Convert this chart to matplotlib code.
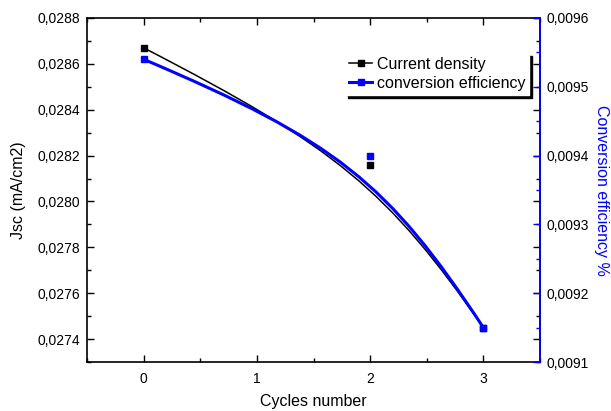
import matplotlib
matplotlib.use('Agg')
import matplotlib.pyplot as plt
from matplotlib.path import Path
from matplotlib.patches import PathPatch
from matplotlib.lines import Line2D
from matplotlib.ticker import FuncFormatter, MultipleLocator

plt.rcParams['font.family'] = ['Liberation Sans', 'DejaVu Sans']

# Values
cycles = [0, 2, 3]
jsc = [0.02867, 0.02816, 0.02745]          # mA/cm2, left axis
efficiency = [0.00954, 0.00940, 0.00915]   # %, right axis

x_ticks = [0, 1, 2, 3]


def comma_fmt(v, _pos):
    return '{:.4f}'.format(v).replace('.', ',')


def smooth_path(xs, ys, k=0.85):
    # Origin style B-spline: the middle point pulls the curve but is not on it
    c1 = (xs[0] + k * (xs[1] - xs[0]), ys[0] + k * (ys[1] - ys[0]))
    c2 = (xs[2] + k * (xs[1] - xs[2]), ys[2] + k * (ys[1] - ys[2]))
    verts = [(xs[0], ys[0]), c1, c2, (xs[2], ys[2])]
    codes = [Path.MOVETO, Path.CURVE4, Path.CURVE4, Path.CURVE4]
    return Path(verts, codes)


fig = plt.figure(figsize=(6.11, 4.11), dpi=100)
ax1 = fig.add_axes([87 / 611, 49 / 411, 453 / 611, 344 / 411])
ax2 = ax1.twinx()

# Current density (black)
ax1.add_patch(PathPatch(smooth_path(cycles, jsc), fill=False, edgecolor='black', lw=1.1,
                        transform=ax1.transData))
ax1.plot(cycles, jsc, 's', color='black', ms=5, ls='none')

# Conversion efficiency (blue)
ax2.add_patch(PathPatch(smooth_path(cycles, efficiency), fill=False, edgecolor='blue', lw=2.2,
                        transform=ax2.transData))
ax2.plot(cycles, efficiency, 's', color='blue', ms=5, ls='none')

ax1.set_xlim(-0.5, 3.5)
ax1.set_ylim(0.0273, 0.0288)
ax2.set_ylim(0.0091, 0.0096)

ax1.set_xticks(x_ticks)
ax1.xaxis.set_minor_locator(MultipleLocator(0.5))
ax1.yaxis.set_major_locator(MultipleLocator(0.0002))
ax1.yaxis.set_minor_locator(MultipleLocator(0.0001))
ax2.yaxis.set_major_locator(MultipleLocator(0.0001))
ax2.yaxis.set_minor_locator(MultipleLocator(0.00005))
ax1.yaxis.set_major_formatter(FuncFormatter(comma_fmt))
ax2.yaxis.set_major_formatter(FuncFormatter(comma_fmt))

ax1.tick_params(which='both', direction='in', top=True, right=True, labelsize=10)
ax1.tick_params(which='major', length=5, width=1)
ax1.tick_params(which='minor', length=3, width=1)
ax1.tick_params(axis='x', pad=7)
ax1.tick_params(axis='y', pad=5)
ax2.tick_params(which='both', direction='in', colors='blue', labelcolor='black', labelsize=10, pad=5)
ax2.tick_params(which='major', length=5, width=1)
ax2.tick_params(which='minor', length=3, width=1)

for s in ax1.spines.values():
    s.set_linewidth(1.2)
ax2.spines['right'].set_color('blue')
ax2.spines['right'].set_linewidth(1.2)
for side in ['left', 'top', 'bottom']:
    ax2.spines[side].set_visible(False)

ax1.set_xlabel('Cycles number', fontsize=11.5, labelpad=6)
ax1.set_ylabel('Jsc (mA/cm2)', fontsize=11.5, labelpad=8)
ax2.set_ylabel('Conversion efficiency %', fontsize=11.5, color='blue', rotation=270, labelpad=14)

handles = [Line2D([], [], color='black', lw=1.1, marker='s', ms=5),
           Line2D([], [], color='blue', lw=2.2, marker='s', ms=5)]
leg = ax2.legend(handles, ['Current density', 'conversion efficiency'],
                 loc='upper right', bbox_to_anchor=(0.976, 0.898), borderaxespad=0,
                 fontsize=11.5, numpoints=1, handlelength=1.4, handletextpad=0.3,
                 labelspacing=0.25, borderpad=0.25, fancybox=False,
                 shadow={'color': 'black', 'alpha': 1})
leg.get_frame().set_edgecolor('white')
leg.get_frame().set_facecolor('white')
leg.get_frame().set_alpha(1)

fig.savefig('out.png', dpi=100)
